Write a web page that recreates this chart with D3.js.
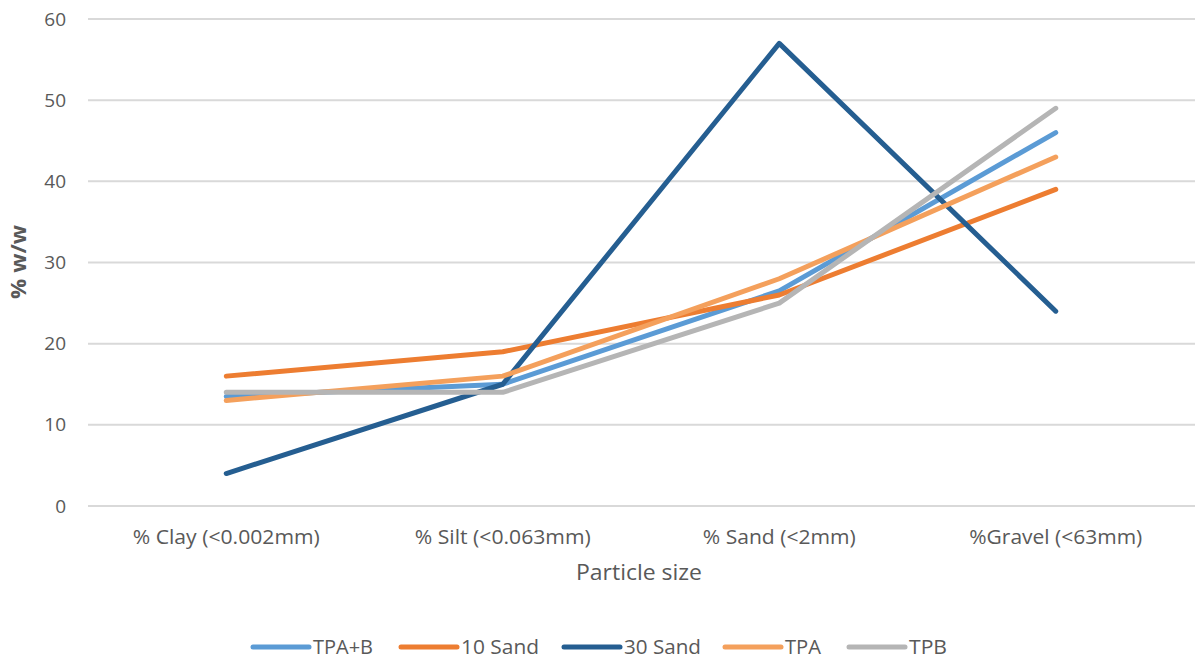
<!DOCTYPE html>
<html><head><meta charset="utf-8">
<script src="https://cdn.jsdelivr.net/npm/d3@7"></script>
<style>body{margin:0;background:#fff}svg{display:block}text{font-family:"Open Sans",sans-serif;fill:#595959}</style>
</head><body><svg id="c" width="1195" height="666"></svg>
<script>
const categories = ["% Clay (<0.002mm)", "% Silt (<0.063mm)", "% Sand (<2mm)", "%Gravel (<63mm)"];
const seriesNames = ["TPA+B", "10 Sand", "30 Sand", "TPA", "TPB"];
const tpaB   = [13.5, 15, 26.5, 46];
const sand10 = [16, 19, 26, 39];
const sand30 = [4, 15, 57, 24];
const tpa    = [13, 16, 28, 43];
const tpb    = [14, 14, 25, 49];
const yTicks = [0, 10, 20, 30, 40, 50, 60];
const colors = ["#5B9BD5", "#ED7D31", "#255E91", "#F4A05C", "#B5B5B5"];
const seriesValues = [tpaB, sand10, sand30, tpa, tpb];
const catLabelWidths = [187, 176, 153, 173];
const legendTextWidths = [60, 78, 77, 36, 38];

const svg = d3.select("#c");
const x = d3.scaleBand().domain(categories).range([88, 1194]);
const y = d3.scaleLinear().domain([0, 60]).range([506, 19]);

// grid
svg.append("g").selectAll("line").data(yTicks).join("line")
  .attr("x1", 88).attr("x2", 1195).attr("y1", d => y(d)).attr("y2", d => y(d))
  .attr("stroke", "#d9d9d9").attr("stroke-width", 2);

// y axis labels
const ya = svg.append("g").attr("transform", "translate(66,0)")
  .call(d3.axisLeft(y).tickValues(yTicks).tickSize(0).tickPadding(0));
ya.select(".domain").remove();
ya.selectAll("text").attr("font-size", 19).style("fill", "#595959")
  .style("font-family", '"Open Sans",sans-serif');

// x axis labels
const xa = svg.append("g").attr("transform", "translate(0,530)")
  .call(d3.axisBottom(x).tickSize(0).tickPadding(0));
xa.select(".domain").remove();
xa.selectAll("text").attr("font-size", 20).attr("dy", "0.71em").style("fill", "#595959")
  .style("font-family", '"Open Sans",sans-serif')
  .attr("textLength", (d, i) => catLabelWidths[i]).attr("lengthAdjust", "spacingAndGlyphs");

// titles
svg.append("text").attr("x", 639).attr("y", 580).attr("text-anchor", "middle")
  .attr("font-size", 21).attr("textLength", 126).attr("lengthAdjust", "spacingAndGlyphs").text("Particle size");
svg.append("text").attr("transform", "translate(26,262) rotate(-90)").attr("text-anchor", "middle")
  .attr("font-size", 22).attr("font-weight", "bold").attr("textLength", 74).attr("lengthAdjust", "spacingAndGlyphs").text("% w/w");

// lines
const line = d3.line().x((d, i) => x(categories[i]) + x.bandwidth() / 2).y(d => y(d));
svg.append("g").selectAll("path").data(seriesValues).join("path")
  .attr("d", d => line(d)).attr("fill", "none")
  .attr("stroke", (d, i) => colors[i]).attr("stroke-width", 5)
  .attr("stroke-linecap", "round").attr("stroke-linejoin", "round");

// legend
const legX = [253, 401, 564, 725, 849];
const lg = svg.append("g").selectAll("g").data(seriesNames).join("g")
  .attr("transform", (d, i) => `translate(${legX[i]},647)`);
lg.append("line").attr("x1", 0).attr("x2", 56).attr("y1", 0).attr("y2", 0)
  .attr("stroke", (d, i) => colors[i]).attr("stroke-width", 5).attr("stroke-linecap", "round");
lg.append("text").attr("x", 60).attr("y", 0).attr("dy", "0.35em").attr("font-size", 20)
  .attr("textLength", (d, i) => legendTextWidths[i]).attr("lengthAdjust", "spacingAndGlyphs").text(d => d);
</script></body></html>
